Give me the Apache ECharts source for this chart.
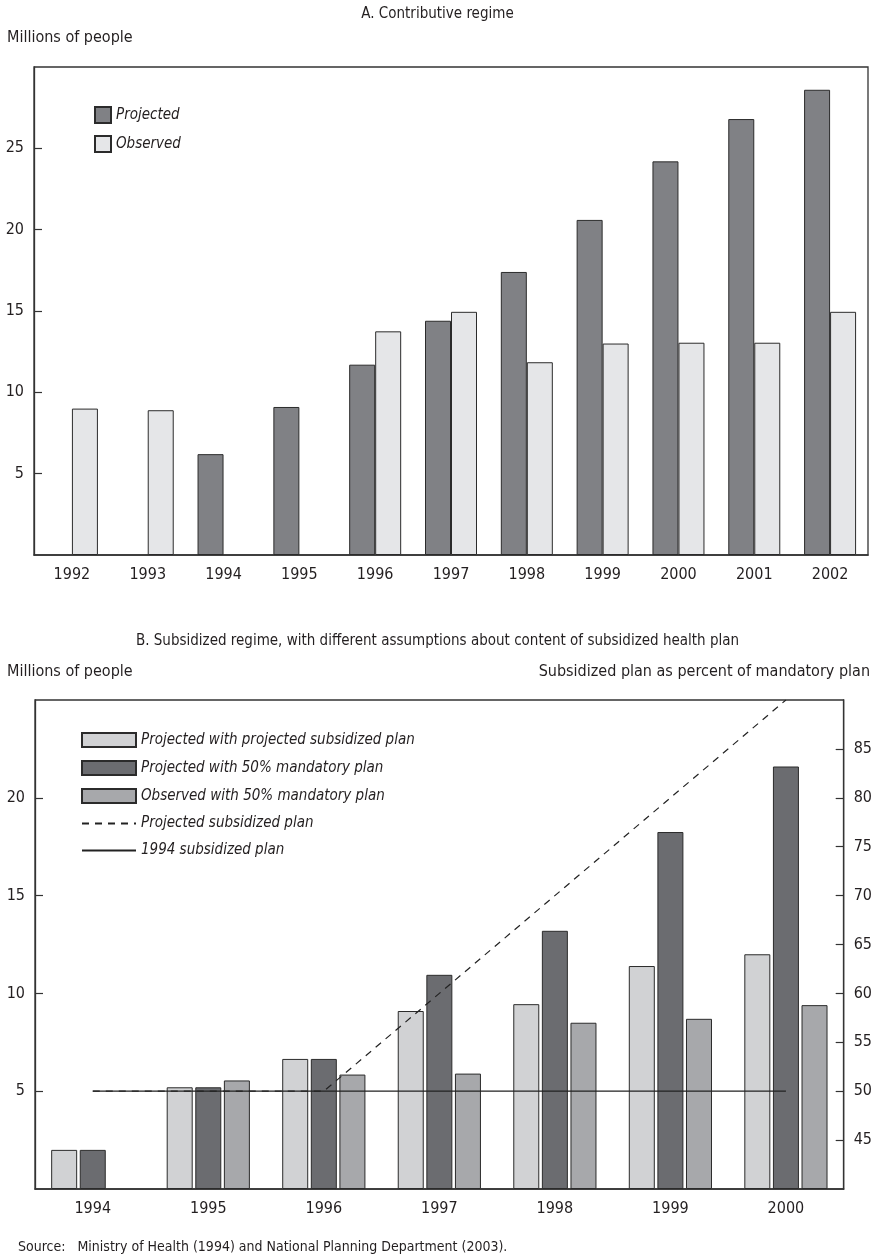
<!DOCTYPE html>
<html>
<head>
<meta charset="utf-8">
<title>Projected and observed affiliation</title>
<style>
  html, body { margin: 0; padding: 0; background: #fff; }
  #main { width: 875px; height: 1260px; }
</style>
<script src="https://cdn.jsdelivr.net/npm/echarts@6/dist/echarts.min.js"></script>
</head>
<body>
<div id="main"></div>
<script>
// Panel A: contributive regime (millions of people)
var yearsA = ['1992', '1993', '1994', '1995', '1996', '1997', '1998', '1999', '2000', '2001', '2002'];
var projectedA = [null, null, 6.2, 9.1, 11.7, 14.4, 17.4, 20.6, 24.2, 26.8, 28.6];
var observedA = [9.0, 8.9, null, null, 13.75, 14.95, 11.85, 13.0, 13.05, 13.05, 14.95];

// Panel B: subsidized regime
var yearsB = ['1994', '1995', '1996', '1997', '1998', '1999', '2000'];
var projPlanB = [2.0, 5.2, 6.65, 9.1, 9.45, 11.4, 12.0];
var proj50B = [2.0, 5.2, 6.65, 10.95, 13.2, 18.25, 21.6];
var obs50B = [null, 5.55, 5.85, 5.9, 8.5, 8.7, 9.4];
// right axis, percent of mandatory plan
var projectedPlanPct = [50, 50, 50, 60, 70, 80, 90];
var plan1994Pct = [50, 50, 50, 50, 50, 50, 50];

var FONT = '"Liberation Sans Narrow", "DejaVu Sans Condensed", sans-serif';
var INK = '#231f20';

var chart = echarts.init(document.getElementById('main'));

var valueAxisBase = {
  type: 'value',
  axisLine: { show: true, lineStyle: { color: '#333', width: 1.3 } },
  axisTick: { show: true, inside: true, length: 8, lineStyle: { color: '#333', width: 1.2 } },
  axisLabel: { fontFamily: FONT, fontSize: 16, color: INK, margin: 10, showMinLabel: false, showMaxLabel: false },
  splitLine: { show: false }
};

var catAxisBase = {
  type: 'category',
  axisLine: { show: true, lineStyle: { color: '#333', width: 1.5 } },
  axisTick: { show: false },
  axisLabel: { fontFamily: FONT, fontSize: 16, color: INK, margin: 12 }
};

var barBorder = { borderColor: '#2b2b2b', borderWidth: 1 };
var legendText = { fontFamily: FONT, fontSize: 15, fontStyle: 'italic', color: INK };

chart.setOption({
  animation: false,
  backgroundColor: '#fff',
  graphic: [
    { type: 'text', left: 'center', top: 7, style: { text: 'A. Contributive regime', font: '15px ' + FONT, fill: INK } },
    { type: 'text', left: 7, top: 30, style: { text: 'Millions of people', font: '16px ' + FONT, fill: INK } },
    { type: 'text', left: 'center', top: 634, style: { text: 'B. Subsidized regime, with different assumptions about content of subsidized health plan', font: '15px ' + FONT, fill: INK } },
    { type: 'text', left: 7, top: 664, style: { text: 'Millions of people', font: '16px ' + FONT, fill: INK } },
    { type: 'text', right: 5, top: 664, style: { text: 'Subsidized plan as percent of mandatory plan', font: '16px ' + FONT, fill: INK } },
    { type: 'text', left: 18, top: 1240, style: { text: 'Source:   Ministry of Health (1994) and National Planning Department (2003).', font: '14px ' + FONT, fill: INK } }
  ],
  legend: [
    {
      data: [{ name: 'Projected', icon: 'rect' }, { name: 'Observed', icon: 'rect' }],
      orient: 'vertical', left: 89, top: 101,
      itemWidth: 16, itemHeight: 16, itemGap: 11,
      textStyle: legendText
    },
    {
      data: [
        { name: 'Projected with projected subsidized plan', icon: 'rect' },
        { name: 'Projected with 50% mandatory plan', icon: 'rect' },
        { name: 'Observed with 50% mandatory plan', icon: 'rect' },
        { name: 'Projected subsidized plan', itemStyle: { opacity: 0 } },
        { name: '1994 subsidized plan', itemStyle: { opacity: 0 } }
      ],
      orient: 'vertical', left: 76, top: 727,
      itemWidth: 54, itemHeight: 14, itemGap: 12,
      textStyle: legendText
    }
  ],
  grid: [
    { left: 34, right: 7, top: 67, height: 488, show: true, borderColor: '#333', borderWidth: 1.3, backgroundColor: 'transparent' },
    { left: 35, right: 31, top: 700, height: 489, show: true, borderColor: '#333', borderWidth: 1.3, backgroundColor: 'transparent' }
  ],
  xAxis: [
    Object.assign({}, catAxisBase, { gridIndex: 0, data: yearsA }),
    Object.assign({}, catAxisBase, { gridIndex: 1, data: yearsB })
  ],
  yAxis: [
    Object.assign({}, valueAxisBase, { gridIndex: 0, min: 0, max: 30, interval: 5 }),
    Object.assign({}, valueAxisBase, { gridIndex: 1, min: 0, max: 25, interval: 5 }),
    Object.assign({}, valueAxisBase, { gridIndex: 1, position: 'right', min: 40, max: 90, interval: 5 })
  ],
  series: [
    {
      name: 'Projected', type: 'bar', xAxisIndex: 0, yAxisIndex: 0,
      data: projectedA, barWidth: 26, barGap: '0%',
      itemStyle: Object.assign({ color: '#808185' }, barBorder)
    },
    {
      name: 'Observed', type: 'bar', xAxisIndex: 0, yAxisIndex: 0,
      data: observedA, barWidth: 26, barGap: '0%',
      itemStyle: Object.assign({ color: '#e5e6e8' }, barBorder)
    },
    {
      name: 'Projected with projected subsidized plan', type: 'bar', xAxisIndex: 1, yAxisIndex: 1,
      data: projPlanB, barWidth: 26, barGap: '10%',
      itemStyle: Object.assign({ color: '#d1d2d4' }, barBorder)
    },
    {
      name: 'Projected with 50% mandatory plan', type: 'bar', xAxisIndex: 1, yAxisIndex: 1,
      data: proj50B, barWidth: 26, barGap: '10%',
      itemStyle: Object.assign({ color: '#6b6c70' }, barBorder)
    },
    {
      name: 'Observed with 50% mandatory plan', type: 'bar', xAxisIndex: 1, yAxisIndex: 1,
      data: obs50B, barWidth: 26, barGap: '10%',
      itemStyle: Object.assign({ color: '#a7a8ab' }, barBorder)
    },
    {
      name: 'Projected subsidized plan', type: 'line', xAxisIndex: 1, yAxisIndex: 2,
      data: projectedPlanPct, symbol: 'none', z: 5,
      lineStyle: { color: '#222', width: 1.2, type: [7, 6] },
      itemStyle: { color: '#222' }
    },
    {
      name: '1994 subsidized plan', type: 'line', xAxisIndex: 1, yAxisIndex: 2,
      data: plan1994Pct, symbol: 'none', z: 5,
      lineStyle: { color: '#222', width: 1.2 },
      itemStyle: { color: '#222' }
    }
  ]
});
</script>
</body>
</html>
